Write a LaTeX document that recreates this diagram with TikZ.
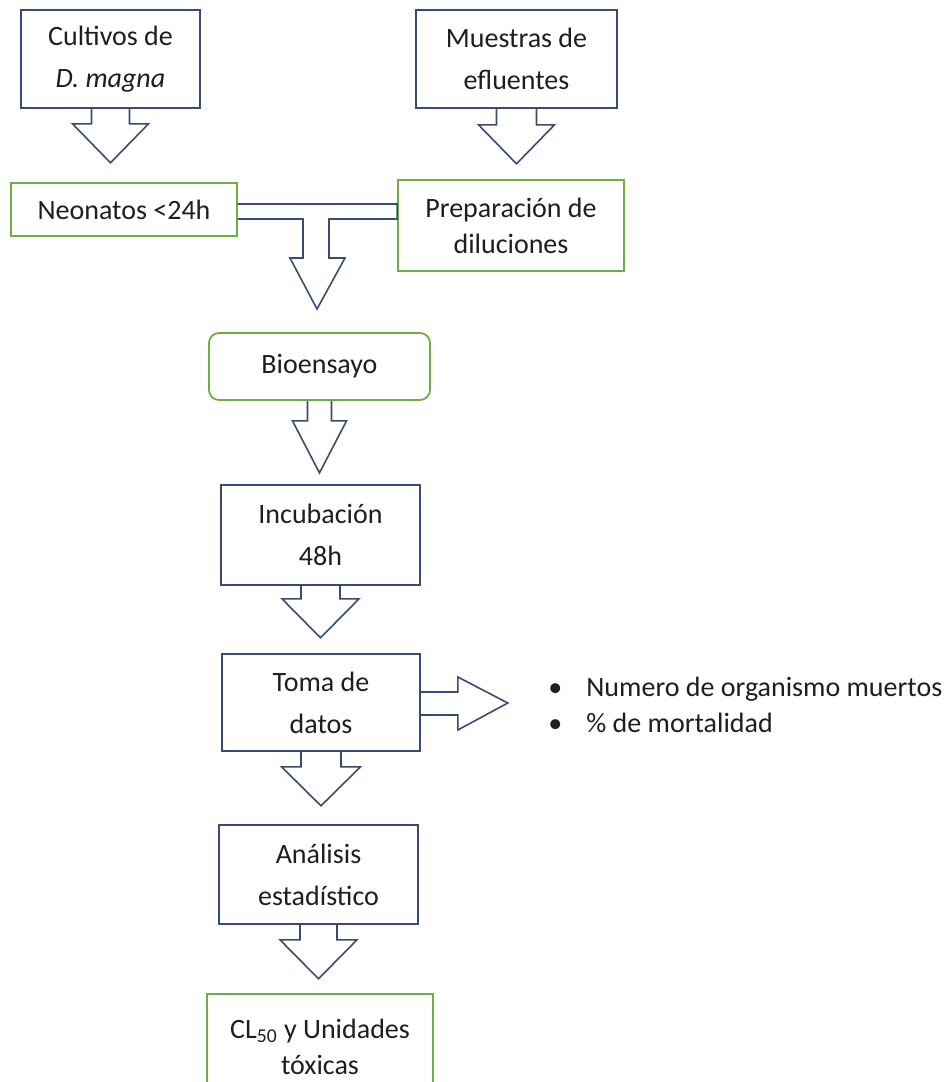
\documentclass[tikz,border=0pt]{standalone}
\usepackage{fontspec}
\setmainfont{Carlito}
\usetikzlibrary{calc, positioning}

\definecolor{navyline}{HTML}{384C73}
\definecolor{greenline}{HTML}{70AD47}
\definecolor{inktext}{HTML}{1E1E1E}

\tikzset{
  navybox/.style={draw=navyline, line width=0.8pt, inner sep=0pt, align=center,
    text=inktext, font=\fontsize{14}{21}\selectfont},
  greenbox/.style={draw=greenline, line width=0.9pt, inner sep=0pt, align=center,
    text=inktext, font=\fontsize{14}{18}\selectfont},
  blockarrow/.style={draw=navyline, line width=0.8pt, line join=miter},
}

\begin{document}
\begin{tikzpicture}[x=0.5pt, y=-0.5pt]
  \clip (0,0) rectangle (952,1082);

  % sources
  \node[navybox, minimum width=89.5pt, minimum height=49pt] at (110.5,59) (cult) {Cultivos de\\\textit{D. magna}};
  \node[navybox, minimum width=100.5pt, minimum height=49pt] at (516.5,59) (mues) {Muestras de\\efluentes};
  \node[greenbox, minimum width=113pt, minimum height=26.5pt] at (124,209.5) (neo) {Neonatos <24h};
  \node[greenbox, minimum width=113pt, minimum height=45.5pt] at (511,225.5) (prep) {Preparación de\\diluciones};

  % main column
  \node[greenbox, rounded corners=5pt, minimum width=110.5pt, minimum height=33.5pt] at (319.5,366.5) (bio) {Bioensayo};
  \node[navybox, minimum width=99.5pt, minimum height=50pt] at (320.5,535) (incu) {Incubación\\48h};
  \node[navybox, minimum width=99pt, minimum height=48.5pt] at (321,702.5) (toma) {Toma de\\datos};
  \node[navybox, minimum width=99.5pt, minimum height=49.5pt] at (318.5,874.5) (anal) {Análisis\\estadístico};
  \node[greenbox, minimum width=113pt, minimum height=53pt] at (320,1047) (cl) {CL\textsubscript{50} y Unidades\\tóxicas};

  \node[anchor=west, inner sep=0pt, align=left, text=inktext, font=\fontsize{14}{18}\selectfont]
    at (548,705) (datos) {\makebox[19pt][l]{\textbullet}Numero de organismo muertos\\
      \makebox[19pt][l]{\textbullet}\% de mortalidad};

  % block arrows: node / half shaft / shaft length / half head / tip
  \foreach \src/\hs/\sl/\hh/\tl in {cult/19/15/38/54, mues/20/16/38/55, bio/12/20/27/72,
      incu/19.5/13/38.5/52, toma/20/15/39.5/54, anal/18.5/15/38.5/54} {
    \draw[blockarrow] ($(\src.south)+(-\hs,0)$) -- ($(\src.south)+(-\hs,\sl)$)
      -- ($(\src.south)+(-\hh,\sl)$) -- ($(\src.south)+(0,\tl)$)
      -- ($(\src.south)+(\hh,\sl)$) -- ($(\src.south)+(\hs,\sl)$) -- ($(\src.south)+(\hs,0)$);
  };

  \draw[blockarrow] ($(toma.east)+(0,-10.5)$) -- ($(toma.east)+(37,-10.5)$) -- ($(toma.east)+(37,-25.5)$)
    -- ($(toma.east)+(87,0.5)$) -- ($(toma.east)+(37,27.5)$) -- ($(toma.east)+(37,12.5)$) -- ($(toma.east)+(0,12.5)$);

  % joining arrow into Bioensayo
  \draw[blockarrow] (neo.east |- 0,204) -- (prep.west |- 0,204) -- (prep.west |- 0,219) -- (329,219)
    -- (329,258) -- (345,258) -- (317,309) -- (290,258) -- (303,258) -- (303,219) -- (neo.east |- 0,219);
\end{tikzpicture}
\end{document}
